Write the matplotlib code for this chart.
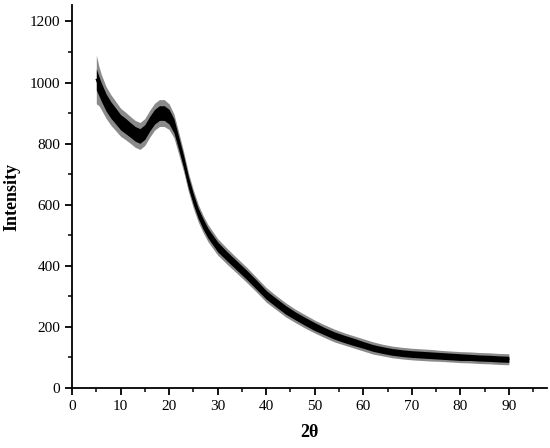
import matplotlib.pyplot as plt
from matplotlib.ticker import MultipleLocator
import numpy as np

# 2theta positions where the trace was read
two_theta = [5, 5.5, 6, 7, 8, 9, 10, 11, 12, 13, 14, 15, 16, 17, 18, 19, 20,
             21, 22, 23, 24, 25, 26, 27, 28, 30, 32, 34, 36, 38, 40, 42, 44,
             46, 48, 50, 52, 54, 56, 58, 60, 62, 64, 66, 68, 70, 72, 74, 76,
             78, 80, 82, 84, 86, 88, 90]
# middle of the noisy trace
intensity = [1010, 990, 970, 935, 910, 890, 870, 858, 845, 832, 825, 838,
             865, 888, 900, 900, 888, 858, 800, 740, 672, 618, 572, 537,
             507, 462, 430, 400, 370, 338, 305, 280, 256, 236, 218, 201,
             186, 172, 161, 151, 141, 131, 124, 118, 114, 111, 109, 107,
             105, 103, 101, 100, 98, 97, 95, 94]
# half width of the dense black band
band_half = [35, 32, 30, 28, 27, 26, 25, 25, 24, 24, 24, 24, 24, 24, 24, 24,
             24, 23, 21, 20, 19, 18, 17, 17, 16, 16, 15, 15, 15, 15, 14, 14,
             14, 13, 13, 13, 12, 12, 12, 12, 11, 11, 11, 11, 11, 11, 11, 11,
             11, 11, 11, 10, 10, 10, 10, 10]
# half width reached by the noise spikes
spike_half = [80, 65, 58, 52, 50, 48, 46, 45, 44, 44, 44, 44, 44, 44, 44, 44,
              42, 39, 36, 33, 31, 30, 29, 28, 28, 27, 26, 25, 25, 24, 24, 23,
              23, 22, 22, 21, 21, 21, 20, 20, 20, 20, 19, 19, 19, 19, 19, 19,
              18, 18, 18, 18, 18, 18, 18, 18]

x = np.array(two_theta)
y = np.array(intensity)
band = np.array(band_half)
spike = np.array(spike_half)

plt.rcParams['font.family'] = ['Liberation Serif', 'DejaVu Serif']

fig = plt.figure(figsize=(5.5, 4.48), dpi=100)
ax = fig.add_axes([0.131, 0.134, 0.863, 0.855])

ax.fill_between(x, y - spike, y + spike, color='#8a8a8a', lw=0)
ax.fill_between(x, y - band, y + band, color='black', lw=0)
ax.plot(x, y, color='black', lw=1)

ax.set_xlim(0, 97.8)
ax.set_ylim(0, 1254)
ax.xaxis.set_major_locator(MultipleLocator(10))
ax.xaxis.set_minor_locator(MultipleLocator(5))
ax.yaxis.set_major_locator(MultipleLocator(200))
ax.yaxis.set_minor_locator(MultipleLocator(100))

for side in ['top', 'right']:
    ax.spines[side].set_visible(False)
for side in ['left', 'bottom']:
    ax.spines[side].set_linewidth(1.3)

ax.tick_params(which='major', direction='out', length=5, width=1.3,
               labelsize=11)
ax.tick_params(which='minor', direction='out', length=3, width=1.1)

ax.set_xlabel('2θ', fontsize=13, fontweight='bold', labelpad=8)
ax.set_ylabel('Intensity', fontsize=13, fontweight='bold', labelpad=7)

fig.savefig('out.png', dpi=100)
